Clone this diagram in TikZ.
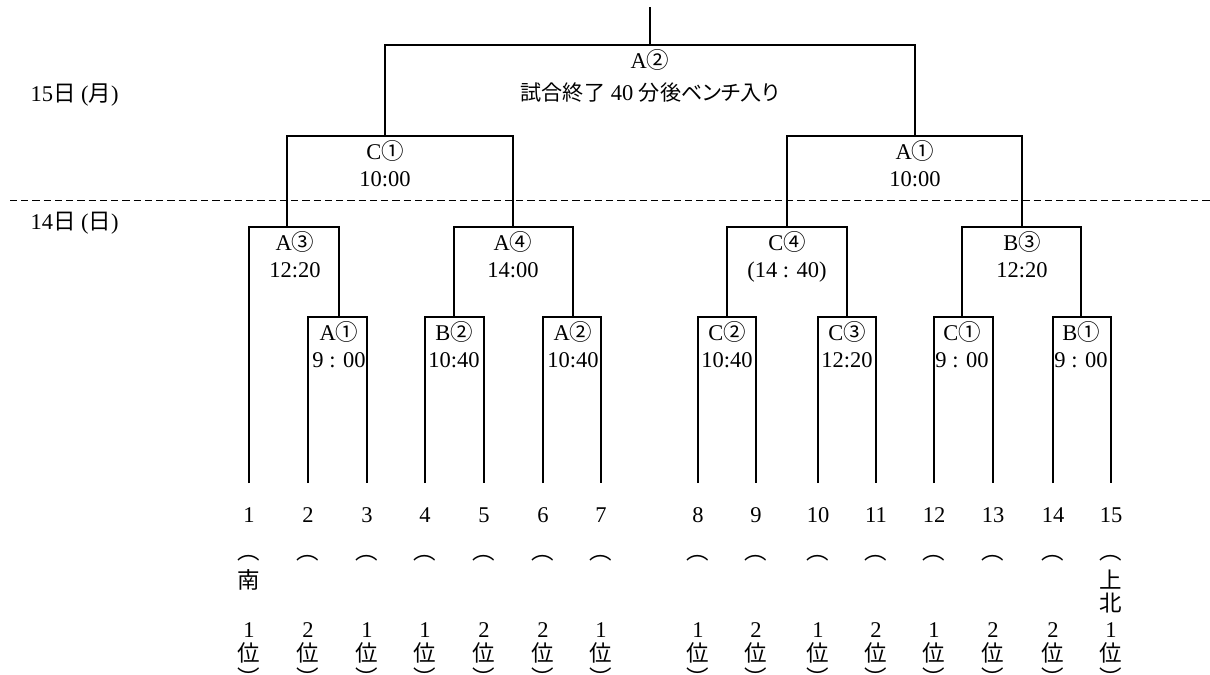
\documentclass[tikz,border=0pt]{standalone}
\usepackage{fontspec}
\setmainfont{Liberation Serif}
\newfontfamily\jp{Noto Sans CJK JP}
\newfontfamily\jpp[RawFeature=+palt]{Noto Sans CJK JP}

\begin{document}
\begin{tikzpicture}[x=0.025cm,y=-0.025cm,line width=0.8pt,
	game/.style={below=3pt,inner sep=0pt,align=center,font=\fontsize{16}{19.2}\selectfont},
	day/.style={anchor=west,inner sep=0pt,font=\fontsize{16}{19.2}\selectfont},
	seed/.style={inner sep=0pt,font=\fontsize{16}{19.2}\selectfont},
	tate/.style={inner sep=0pt,align=center,font=\jp\fontsize{16}{16.4}\selectfont}]
	\useasboundingbox (0,0) rectangle (1210,675);
	% dividing line between the two days
	\draw [dash pattern=on 5pt off 3pt,line width=0.6pt] (10,200)-- (1210,200);
	\node[day] (d15) at (30,95) {15{\jp 日} ({\jp 月})};
	\node[day] (d14) at (30,223) {14{\jp 日} ({\jp 日})};
	% entries
	\foreach \x/\sch/\rk [count=\i] in {249/南/1,308/{}/2,367/{}/1,425/{}/1,484/{}/2,543/{}/2,601/{}/1,
		698/{}/1,756/{}/2,818/{}/1,876/{}/2,934/{}/1,993/{}/2,1053/{}/2,1111/{上\\北}/1}{
		\coordinate (t\i) at (\x,483);
		\node[seed] (no\i) at (\x,515) {\i};
		\node[tate] (op\i) at (\x,558) {︵};
		\node[tate,anchor=north] (sc\i) at (\x,569) {\sch};
		\node[seed] (rk\i) at (\x,630) {\rk};
		\node[tate] (pl\i) at (\x,653) {位};
		\node[tate] (cl\i) at (\x,677) {︶};
	}
	% games
	\coordinate (g1) at (339,317);
	\coordinate (g2) at (454,317);
	\coordinate (g3) at (573,317);
	\coordinate (g4) at (727,317);
	\coordinate (g5) at (847,317);
	\coordinate (g6) at (962,317);
	\coordinate (g7) at (1081,317);
	\coordinate (q1) at (287,227);
	\coordinate (q2) at (513,227);
	\coordinate (q3) at (787,227);
	\coordinate (q4) at (1022,227);
	\coordinate (h1) at (385,136);
	\coordinate (h2) at (915,136);
	\coordinate (fin) at (650,45);
	\coordinate (top) at (650,7);
	\foreach \l/\m/\r in {t2/g1/t3,t4/g2/t5,t6/g3/t7,t8/g4/t9,t10/g5/t11,t12/g6/t13,t14/g7/t15,
		t1/q1/g1,g2/q2/g3,g4/q3/g5,g6/q4/g7,q1/h1/q2,q3/h2/q4,h1/fin/h2}
		\draw (\l) |- (\m) -| (\r);
	\draw (fin)-- (top);
	% game labels
	\node[game] (lg1) at (g1) {A{\jp ①}\\9 : 00};
	\node[game] (lg2) at (g2) {B{\jp ②}\\10:40};
	\node[game] (lg3) at (g3) {A{\jp ②}\\10:40};
	\node[game] (lg4) at (g4) {C{\jp ②}\\10:40};
	\node[game] (lg5) at (g5) {C{\jp ③}\\12:20};
	\node[game] (lg6) at (g6) {C{\jp ①}\\9 : 00};
	\node[game] (lg7) at (g7) {B{\jp ①}\\9 : 00};
	\node[game,xshift=0.2cm] (lq1) at (q1) {A{\jp ③}\\12:20};
	\node[game] (lq2) at (q2) {A{\jp ④}\\14:00};
	\node[game] (lq3) at (q3) {C{\jp ④}\\(14 : 40)};
	\node[game] (lq4) at (q4) {B{\jp ③}\\12:20};
	\node[game] (lh1) at (h1) {C{\jp ①}\\10:00};
	\node[game] (lh2) at (h2) {A{\jp ①}\\10:00};
	\node[game,font=\fontsize{16}{22.8}\selectfont] (lfin) at (fin) {A{\jp ②}\\{\jpp\fontsize{15}{22.8}\selectfont 試合終了} 40 {\jpp\fontsize{15}{22.8}\selectfont 分後ベンチ入り}};
\end{tikzpicture}
\end{document}
